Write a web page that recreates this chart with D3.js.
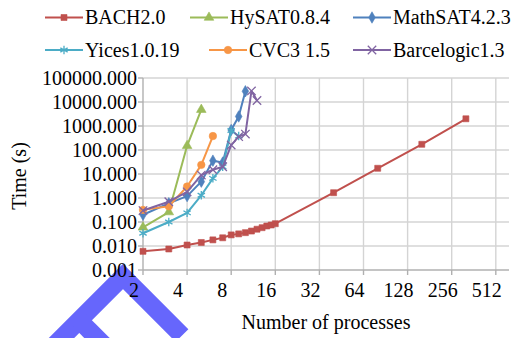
<!DOCTYPE html>
<html><head><meta charset="utf-8">
<script src="https://cdn.jsdelivr.net/npm/d3@7/dist/d3.min.js"></script>
<style>
html,body{margin:0;padding:0;background:#fff;}
svg{display:block;}
text{font-family:"Liberation Serif","Times New Roman",serif;fill:#000;}
</style></head><body>
<svg id="c" width="514" height="338"></svg>
<script>
// ---- data ----
const xTicks = [2, 4, 8, 16, 32, 64, 128, 256, 512];
const yTicks = [0.001, 0.01, 0.1, 1, 10, 100, 1000, 10000, 100000];
const seriesNames = ["BACH2.0", "HySAT0.8.4", "MathSAT4.2.3", "Yices1.0.19", "CVC3 1.5", "Barcelogic1.3"];

const bachX = [2, 3, 4, 5, 6, 7, 8, 9, 10, 11, 12, 13, 14, 15, 16, 40, 80, 160, 320];
const bachY = [0.006, 0.0075, 0.011, 0.014, 0.018, 0.022, 0.029, 0.032, 0.036, 0.042, 0.05, 0.058, 0.068, 0.075, 0.085, 1.66, 17.3, 173, 2000];

const hysatX = [2, 3, 4, 5];
const hysatY = [0.06, 0.26, 150, 4800];

const mathsatX = [2, 3, 4, 5, 6, 7, 8, 9, 10];
const mathsatY = [0.2, 0.6, 1.2, 4.8, 36, 30, 680, 2500, 28000];

const yicesX = [2, 3, 4, 5, 6, 7, 8, 9];
const yicesY = [0.034, 0.1, 0.24, 1.3, 6.6, 20, 650, 380];

const cvc3X = [2, 3, 4, 5, 6];
const cvc3Y = [0.32, 0.45, 3.0, 24, 380];

const barceX = [2, 3, 4, 5, 6, 7, 8, 9, 10, 11, 12];
const barceY = [0.3, 0.7, 1.8, 9, 15, 20, 160, 360, 460, 29000, 11500];

// ---- styles ----
const colors = ["#C0504D", "#9BBB59", "#4F81BD", "#4BACC6", "#F79646", "#8064A2"];
const symbolTypes = [d3.symbolSquare, d3.symbolTriangle, d3.symbolDiamond, d3.symbolAsterisk, d3.symbolCircle, (d3.symbolTimes || d3.symbolX || d3.symbolCross)];
const symbolSizes = [36, 40, 38, 50, 44, 48];
const strokeSymbol = [false, false, false, true, false, true];

const series = [
  {x: bachX, y: bachY}, {x: hysatX, y: hysatY}, {x: mathsatX, y: mathsatY},
  {x: yicesX, y: yicesY}, {x: cvc3X, y: cvc3Y}, {x: barceX, y: barceY}
].map((s, i) => ({name: seriesNames[i], color: colors[i], sym: symbolTypes[i], size: symbolSizes[i], strokeSym: strokeSymbol[i],
  pts: s.x.map((v, j) => [v, s.y[j]])}));

// ---- layout ----
const svg = d3.select("#c");
const L = 143, R = 509, T = 78, B = 270;
const x = d3.scaleLog().base(2).domain([2, 630]).range([L, R]);
const y = d3.scaleLog().domain([0.001, 100000]).range([B, T]);

// watermark (decoration behind)
const wm = svg.append("g").attr("fill", "none").attr("stroke", "#6666fc").attr("stroke-width", 18).attr("stroke-linejoin", "miter").attr("stroke-linecap", "butt");
wm.append("path").attr("d", "M40,359.5 L123,276.5 L182,335.5");
wm.append("path").attr("d", "M79.25,320.25 L110,351");

// grid
const grid = svg.append("g").attr("stroke", "#d4d4d4").attr("stroke-width", 1.4);
yTicks.forEach(t => { if (t > 0.001) grid.append("line").attr("x1", L).attr("x2", R).attr("y1", y(t)).attr("y2", y(t)); });
xTicks.forEach(t => { if (t > 2) grid.append("line").attr("x1", x(t)).attr("x2", x(t)).attr("y1", T).attr("y2", B); });

// axes
const ax = svg.append("g").attr("stroke", "#b0b0b0").attr("stroke-width", 1.4);
ax.append("line").attr("x1", L).attr("x2", L).attr("y1", T).attr("y2", B);
ax.append("line").attr("x1", L).attr("x2", R).attr("y1", B).attr("y2", B);
yTicks.forEach(t => ax.append("line").attr("x1", L - 5).attr("x2", L).attr("y1", y(t)).attr("y2", y(t)));
xTicks.forEach(t => ax.append("line").attr("x1", x(t)).attr("x2", x(t)).attr("y1", B).attr("y2", B + 5));

const fmt = d3.format(".3f");
svg.append("g").selectAll("text").data(yTicks).join("text")
  .attr("x", 137).attr("y", d => y(d)).attr("dy", "0.35em").attr("text-anchor", "end")
  .attr("font-size", 20).text(d => fmt(d));

svg.append("g").selectAll("text").data(xTicks).join("text")
  .attr("x", d => x(d)).attr("dx", -9).attr("y", 297).attr("text-anchor", "middle")
  .attr("font-size", 20).text(d => d);

svg.append("text").attr("x", 326).attr("y", 329).attr("text-anchor", "middle").attr("font-size", 20).text("Number of processes");
svg.append("text").attr("transform", "translate(25.5,176) rotate(-90)").attr("text-anchor", "middle").attr("font-size", 20).text("Time (s)");

// series
const line = d3.line().x(d => x(d[0])).y(d => y(d[1]));
function drawMarker(g, s, cx, cy) {
  const p = g.append("path").attr("d", d3.symbol().type(s.sym).size(s.size)()).attr("transform", `translate(${cx},${cy})`);
  if (s.strokeSym) p.attr("fill", "none").attr("stroke", s.color).attr("stroke-width", 1.3);
  else p.attr("fill", s.color).attr("stroke", s.color).attr("stroke-width", 0.6);
}
series.forEach(s => {
  const g = svg.append("g");
  g.append("path").datum(s.pts).attr("d", line).attr("fill", "none").attr("stroke", s.color).attr("stroke-width", 2).attr("stroke-linejoin", "round");
  s.pts.forEach(p => drawMarker(g, s, x(p[0]), y(p[1])));
});

// legend
const legPos = [[45, 17.5], [190, 17.5], [353, 17.5], [45, 50], [209, 50], [353, 50]];
series.forEach((s, i) => {
  const [lx, ly] = legPos[i];
  const g = svg.append("g");
  g.append("line").attr("x1", lx).attr("x2", lx + 38).attr("y1", ly).attr("y2", ly).attr("stroke", s.color).attr("stroke-width", 2.2);
  drawMarker(g, s, lx + 19, ly);
  g.append("text").attr("x", lx + 40).attr("y", ly + 6.8).attr("font-size", 20).text(s.name);
});
</script>
</body></html>
